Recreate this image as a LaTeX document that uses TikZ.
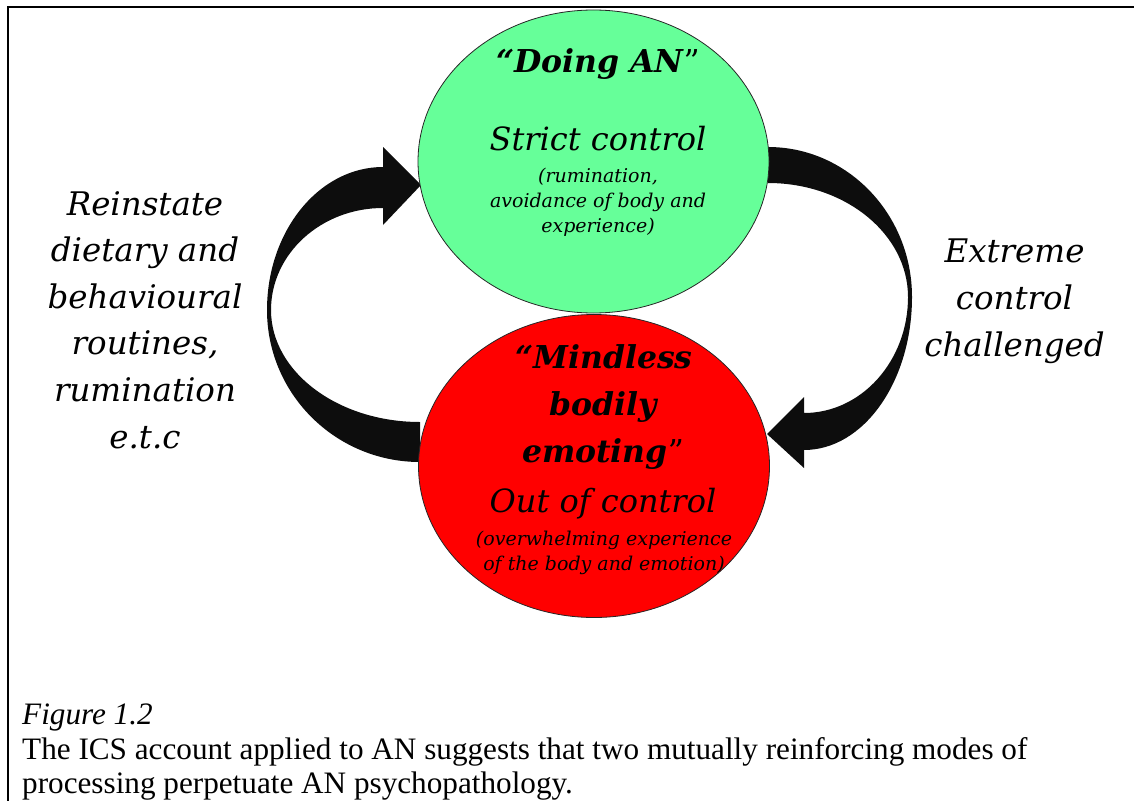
\documentclass[tikz,border=0pt]{standalone}
\usepackage{fontspec}
\setmainfont{DejaVu Serif}
\newfontfamily\capfont{Liberation Serif}
\usetikzlibrary{shapes.geometric}
\definecolor{modegreen}{RGB}{102,255,153}
\definecolor{modered}{RGB}{255,0,0}
\definecolor{arrowblack}{RGB}{13,13,13}
\newcommand{\fs}[1]{\fontsize{#1}{#1}\selectfont}
\begin{document}
\begin{tikzpicture}[x=1pt,y=-1pt,
  mode/.style={ellipse, draw=black!85, line width=0.8pt, inner sep=0pt,
    minimum width=351pt, minimum height=303pt},
  looparrow/.style={fill=arrowblack, draw=none},
  txt/.style={anchor=base, inner sep=0pt},
  sidetxt/.style={txt, font=\fs{32.5}\itshape},
  headtxt/.style={txt, font=\fs{31.5}\bfseries\itshape},
  modetxt/.style={txt, font=\fs{32}\itshape},
  smalltxt/.style={txt, font=\fs{19}\itshape},
  captxt/.style={anchor=base west, inner sep=0pt, font=\capfont\fs{31.2}}
]
\useasboundingbox (0,0) rectangle (1134,800);

% frame round the figure
\draw[line width=2.3pt] (8,820) -- (8,7) -- (1150,7);

% curved block arrow on the left: from the lower mode up to the upper one
\path[looparrow] (420,462)
  .. controls (335.5,462) and (267,393.9) .. (267,310)
  .. controls (267,231.1) and (319,167) .. (383,167)
  -- (383,147) -- (421,185) -- (383,225) -- (383,208)
  .. controls (321.2,208) and (271,253.7) .. (271,310)
  .. controls (271,371.8) and (337.8,422) .. (420,422) -- cycle;

% curved block arrow on the right: from the upper mode down to the lower one
\path[looparrow] (768,147)
  .. controls (847.5,147) and (912,214.2) .. (912,297)
  .. controls (912,381.5) and (863.6,450) .. (804,450)
  -- (804,468) -- (767,434) -- (804,397) -- (804,413)
  .. controls (861.4,413) and (908,361) .. (908,297)
  .. controls (908,234.1) and (845.3,183) .. (768,183) -- cycle;

% the two modes of processing
\node[mode, fill=modegreen] (doing) at (593.5,161.5) {};
\node[mode, fill=modered] (mindless) at (594,466) {};

% upper mode text
\node[headtxt] (d1) at (598,73) {“Doing AN{\mdseries\upshape”}};
\node[modetxt] (d2) at (598,150) {Strict control};
\node[smalltxt] (d3) at (598,182) {(rumination,};
\node[smalltxt] (d4) at (598,207) {avoidance of body and};
\node[smalltxt] (d5) at (598,232) {experience)};

% lower mode text
\node[headtxt] (m1) at (604,368) {“Mindless};
\node[headtxt] (m2) at (603,415) {bodily};
\node[headtxt] (m3) at (603,462) {emoting{\mdseries\upshape”}};
\node[modetxt] (m4) at (603,512) {Out of control};
\node[smalltxt] (m5) at (604,545) {(overwhelming experience};
\node[smalltxt] (m6) at (604,570) {of the body and emotion)};

% left arrow label
\node[sidetxt] (l1) at (145,215) {Reinstate};
\node[sidetxt] (l2) at (145,261.6) {dietary and};
\node[sidetxt] (l3) at (145,308.2) {behavioural};
\node[sidetxt] (l4) at (145,354.8) {routines,};
\node[sidetxt] (l5) at (145,401.4) {rumination};
\node[sidetxt] (l6) at (145,448) {e.t.c};

% right arrow label
\node[sidetxt] (r1) at (1014.5,262) {Extreme};
\node[sidetxt] (r2) at (1014.5,309) {control};
\node[sidetxt] (r3) at (1014.5,356) {challenged};

% caption
\node[captxt, font=\capfont\fs{31.2}\itshape] (c1) at (22,724) {Figure 1.2};
\node[captxt] (c2) at (22,759) {The ICS account applied to AN suggests that two mutually reinforcing modes of};
\node[captxt] (c3) at (22,793) {processing perpetuate AN psychopathology.};
\end{tikzpicture}
\end{document}
